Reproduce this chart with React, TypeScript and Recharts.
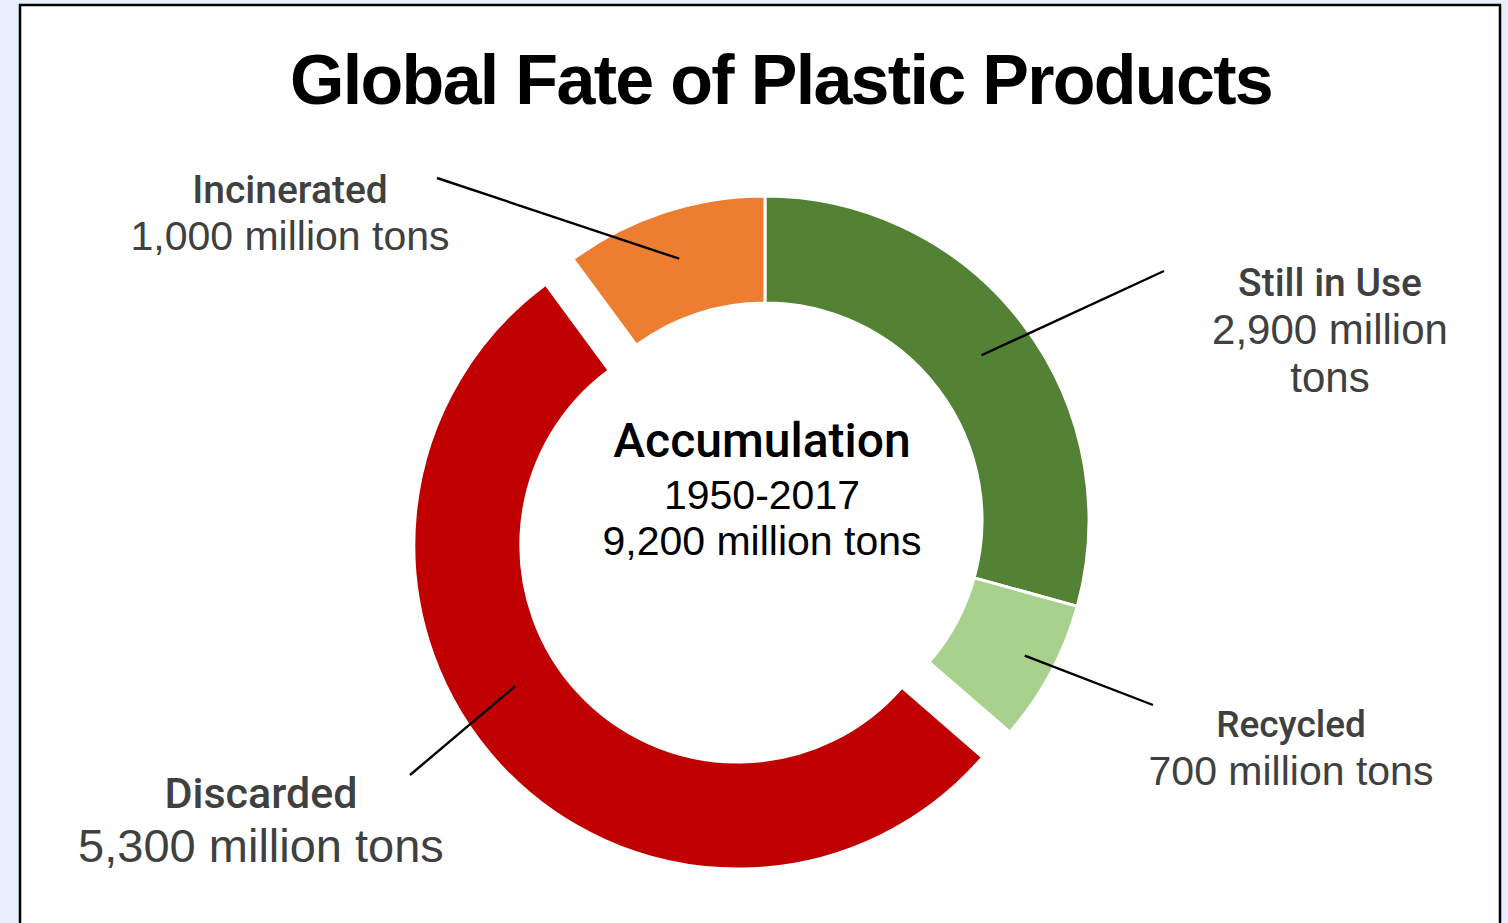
import React from 'react';
import { PieChart, Pie, Cell } from 'recharts';

// ---- data ----
const categories = ['Still in Use', 'Recycled', 'Discarded', 'Incinerated'];
const values = [2900, 700, 5300, 1000];
const valueLabels = ['2,900 million tons', '700 million tons', '5,300 million tons', '1,000 million tons'];
const colors = ['#548235', '#A9D18E', '#C00000', '#ED7D31'];
const explodedCategory = 'Discarded';
const titleText = 'Global Fate of Plastic Products';
const centerLines = ['Accumulation', '1950-2017', '9,200 million tons'];

const data = categories.map((name, i) => ({ name, value: values[i], label: valueLabels[i] }));

// ---- layout (not data) ----
const W = 1508;
const H = 923;
const CX = 765;
const CY = 520;
const OUTER = 324;
const INNER = 217;
const EXPLODE = 37;
const FONT = '"Liberation Sans", Arial, sans-serif';
const NAME_FONT = 'Roboto, "Liberation Sans", sans-serif';

// callout layout per slice, relative to pie centre
const callouts = [
  { angleShift: 0, r: 272, end: [399, -249], tx: 565, ty: -224, lh: 48, nameSize: 39, valueSize: 42, lines: ['2,900 million', 'tons'] },
  { angleShift: -0.6, r: 293, end: [388, 185], tx: 526, ty: 217, lh: 48, nameSize: 37, valueSize: 41, lines: null },
  { angleShift: 9.1, r: 300, end: [-355, 255], tx: -504, ty: 288, lh: 54, nameSize: 43, valueSize: 47, lines: null },
  { angleShift: 0, r: 275, end: [-328, -342], tx: -475, ty: -317, lh: 47, nameSize: 39, valueSize: 41, lines: null },
];

// explosion offset of the exploded slice, from the data
const total = values.reduce((a, b) => a + b, 0);
const exIdx = categories.indexOf(explodedCategory);
const before = values.slice(0, exIdx).reduce((a, b) => a + b, 0);
const exMid = ((before + values[exIdx] / 2) / total) * 2 * Math.PI;
const exDx = EXPLODE * Math.sin(exMid);
const exDy = -EXPLODE * Math.cos(exMid);

const renderCallout = (p: any) => {
  const i = p.index;
  const L = callouts[i];
  if (!L) return null;
  const cx = p.cx;
  const cy = p.cy;
  const theta = ((90 - p.midAngle + L.angleShift) * Math.PI) / 180;
  const sx = cx + L.r * Math.sin(theta);
  const sy = cy - L.r * Math.cos(theta);
  const ex = cx + L.end[0];
  const ey = cy + L.end[1];
  const tx = cx + L.tx;
  const ty = cy + L.ty;
  const vLines = L.lines || [data[i].label];
  return (
    <g key={`callout-${i}`}>
      <line x1={sx} y1={sy} x2={ex} y2={ey} stroke="#000" strokeWidth={2.4} />
      <text x={tx} y={ty} textAnchor="middle" fontFamily={NAME_FONT} fontWeight={500} fontSize={L.nameSize} fill="#404040">
        {data[i].name}
      </text>
      {vLines.map((t, k) => (
        <text key={k} x={tx} y={ty + L.lh * (k + 1)} textAnchor="middle" fontFamily={FONT} fontSize={L.valueSize} fill="#404040">
          {t}
        </text>
      ))}
    </g>
  );
};

export default function App() {
  return (
    <div style={{ position: 'absolute', left: 0, top: 0, width: W, height: H, overflow: 'hidden', background: '#e7f0fa' }}>
      <svg width={W} height={H} style={{ position: 'absolute', left: 0, top: 0 }}>
        <rect x={20} y={5} width={1480} height={940} fill="#ffffff" stroke="#000" strokeWidth={2.5} />
        <text x={781} y={104} textAnchor="middle" fontFamily={FONT} fontWeight={700} fontSize={70} letterSpacing={-1.7} fill="#000">
          {titleText}
        </text>
        <text x={762} y={457} textAnchor="middle" fontFamily={NAME_FONT} fontWeight={500} fontSize={48} fill="#000">
          {centerLines[0]}
        </text>
        <text x={762} y={509} textAnchor="middle" fontFamily={FONT} fontSize={41} fill="#000">
          {centerLines[1]}
        </text>
        <text x={762} y={555} textAnchor="middle" fontFamily={FONT} fontSize={41} fill="#000">
          {centerLines[2]}
        </text>
      </svg>
      <div style={{ position: 'absolute', left: 0, top: 0 }}>
        <PieChart width={W} height={H} margin={{ top: 0, right: 0, bottom: 0, left: 0 }}>
          <Pie
            data={data}
            dataKey="value"
            nameKey="name"
            cx={CX + exDx}
            cy={CY + exDy}
            innerRadius={INNER}
            outerRadius={OUTER}
            startAngle={90}
            endAngle={-270}
            isAnimationActive={false}
            label={false}
            labelLine={false}
          >
            {data.map((d, i) => (
              <Cell
                key={`ex-${i}`}
                fill={d.name === explodedCategory ? colors[i] : 'none'}
                stroke={d.name === explodedCategory ? '#fff' : 'none'}
                strokeWidth={d.name === explodedCategory ? 3 : 0}
              />
            ))}
          </Pie>
          <Pie
            data={data}
            dataKey="value"
            nameKey="name"
            cx={CX}
            cy={CY}
            innerRadius={INNER}
            outerRadius={OUTER}
            startAngle={90}
            endAngle={-270}
            isAnimationActive={false}
            label={renderCallout}
            labelLine={false}
          >
            {data.map((d, i) => (
              <Cell
                key={`main-${i}`}
                fill={d.name === explodedCategory ? 'none' : colors[i]}
                stroke={d.name === explodedCategory ? 'none' : '#fff'}
                strokeWidth={d.name === explodedCategory ? 0 : 3}
              />
            ))}
          </Pie>
        </PieChart>
      </div>
    </div>
  );
}
